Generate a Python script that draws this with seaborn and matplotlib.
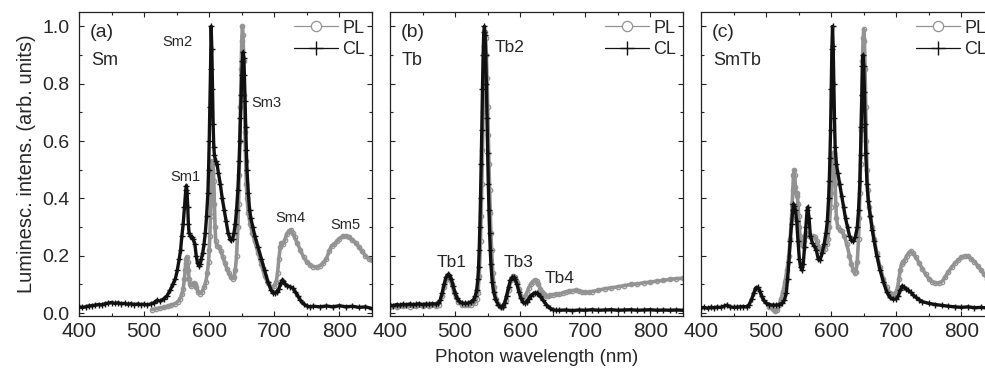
import numpy as np
import pandas as pd
import matplotlib
matplotlib.use("Agg")
import matplotlib.pyplot as plt
import seaborn as sns
from matplotlib.ticker import MultipleLocator

sns.set_style("ticks")
plt.rcParams['font.family'] = ['Liberation Sans', 'DejaVu Sans']

# ---------------- data: panel (a) Sm ----------------
a_cl_wl = [400, 405, 410, 415, 420, 425, 430, 435, 440, 445,
           450, 455, 460, 465, 470, 475, 480, 485, 490, 495,
           500, 505, 510, 515, 520, 525, 530, 535, 540, 544,
           548, 551, 554, 556, 558, 560, 562, 564, 565, 566,
           567, 568, 569, 571, 573, 575, 578, 580, 582, 584,
           586, 588, 590, 592, 594, 596, 598, 599, 600, 601,
           602, 603, 604, 605, 606, 607, 608, 610, 612, 614,
           617, 620, 623, 626, 629, 632, 634, 636, 638, 640,
           642, 644, 646, 647, 648, 649, 650, 651, 652, 653,
           654, 655, 656, 657, 658, 660, 662, 664, 667, 670,
           675, 680, 685, 690, 695, 698, 701, 704, 707, 710,
           712, 714, 717, 720, 724, 728, 732, 736, 740, 745,
           750, 755, 760, 770, 780, 790, 800, 810, 820, 830,
           840, 850]
a_cl_val = [0.022, 0.020, 0.022, 0.025, 0.026, 0.028, 0.030, 0.029, 0.033, 0.035,
            0.037, 0.034, 0.036, 0.033, 0.034, 0.031, 0.033, 0.030, 0.032, 0.030,
            0.031, 0.029, 0.032, 0.036, 0.045, 0.042, 0.050, 0.060, 0.080, 0.100,
            0.120, 0.150, 0.190, 0.220, 0.270, 0.310, 0.370, 0.430, 0.445, 0.420,
            0.370, 0.310, 0.280, 0.270, 0.265, 0.260, 0.240, 0.200, 0.175, 0.165,
            0.170, 0.190, 0.210, 0.240, 0.280, 0.340, 0.420, 0.500, 0.600, 0.720,
            0.850, 1.000, 0.920, 0.780, 0.660, 0.580, 0.550, 0.530, 0.520, 0.490,
            0.450, 0.400, 0.360, 0.320, 0.280, 0.260, 0.255, 0.260, 0.280, 0.310,
            0.360, 0.430, 0.530, 0.600, 0.680, 0.760, 0.830, 0.880, 0.910, 0.890,
            0.830, 0.740, 0.650, 0.570, 0.500, 0.420, 0.360, 0.330, 0.300, 0.270,
            0.230, 0.190, 0.150, 0.110, 0.080, 0.070, 0.070, 0.075, 0.085, 0.105,
            0.115, 0.112, 0.100, 0.095, 0.092, 0.088, 0.075, 0.060, 0.045, 0.032,
            0.025, 0.022, 0.024, 0.022, 0.025, 0.022, 0.026, 0.022, 0.024, 0.020,
            0.022, 0.016]

a_pl_wl = [512, 518, 524, 530, 536, 542, 548, 552, 555, 558,
           560, 562, 563, 564, 565, 566, 567, 568, 569, 570,
           572, 574, 576, 578, 580, 583, 586, 589, 592, 595,
           597, 599, 600, 601, 602, 603, 604, 605, 606, 607,
           608, 609, 610, 612, 615, 618, 621, 624, 627, 630,
           633, 636, 638, 640, 642, 644, 645, 646, 647, 648,
           649, 650, 651, 652, 653, 654, 655, 656, 657, 658,
           660, 663, 666, 670, 675, 680, 685, 690, 695, 700,
           703, 705, 707, 709, 711, 713, 716, 719, 722, 725,
           728, 731, 735, 740, 745, 750, 755, 760, 765, 770,
           775, 780, 784, 788, 792, 796, 800, 805, 810, 815,
           820, 825, 830, 835, 840, 845, 850]
a_pl_val = [0.012, 0.015, 0.018, 0.020, 0.024, 0.028, 0.033, 0.040, 0.050, 0.065,
            0.085, 0.120, 0.150, 0.175, 0.190, 0.195, 0.180, 0.150, 0.120, 0.100,
            0.095, 0.100, 0.105, 0.100, 0.090, 0.075, 0.068, 0.075, 0.090, 0.110,
            0.140, 0.180, 0.220, 0.270, 0.340, 0.420, 0.500, 0.530, 0.520, 0.460,
            0.380, 0.300, 0.250, 0.235, 0.230, 0.215, 0.195, 0.175, 0.155, 0.140,
            0.125, 0.120, 0.125, 0.150, 0.200, 0.300, 0.380, 0.480, 0.600, 0.720,
            0.850, 0.950, 1.000, 0.970, 0.880, 0.760, 0.630, 0.530, 0.450, 0.400,
            0.350, 0.310, 0.280, 0.250, 0.210, 0.170, 0.130, 0.105, 0.090, 0.095,
            0.110, 0.140, 0.190, 0.230, 0.245, 0.240, 0.255, 0.275, 0.285, 0.290,
            0.280, 0.265, 0.245, 0.220, 0.195, 0.178, 0.168, 0.162, 0.160, 0.165,
            0.175, 0.190, 0.215, 0.235, 0.240, 0.250, 0.260, 0.268, 0.270, 0.265,
            0.255, 0.245, 0.230, 0.215, 0.200, 0.190, 0.185]

# ---------------- data: panel (b) Tb ----------------
b_cl_wl = [400, 405, 410, 415, 420, 425, 430, 435, 440, 445,
           450, 455, 460, 465, 470, 474, 477, 480, 483, 486,
           489, 491, 494, 497, 500, 503, 506, 510, 515, 520,
           525, 528, 531, 533, 535, 536, 537, 538, 539, 540,
           541, 542, 543, 544, 545, 546, 547, 548, 549, 550,
           551, 552, 553, 554, 555, 557, 559, 562, 566, 570,
           573, 576, 579, 582, 585, 588, 590, 592, 595, 598,
           601, 604, 607, 610, 613, 616, 619, 622, 625, 628,
           631, 635, 640, 645, 650, 655, 660, 670, 680, 690,
           700, 710, 720, 730, 740, 750, 760, 770, 780, 790,
           800, 810, 820, 830, 840, 850]
b_cl_val = [0.028, 0.026, 0.030, 0.028, 0.031, 0.029, 0.032, 0.030, 0.031, 0.033,
            0.030, 0.032, 0.031, 0.033, 0.032, 0.035, 0.045, 0.070, 0.100, 0.125,
            0.135, 0.133, 0.120, 0.095, 0.070, 0.052, 0.042, 0.036, 0.034, 0.035,
            0.040, 0.045, 0.060, 0.080, 0.120, 0.160, 0.220, 0.300, 0.400, 0.520,
            0.640, 0.780, 0.900, 0.980, 1.000, 0.970, 0.900, 0.800, 0.680, 0.560,
            0.450, 0.360, 0.280, 0.220, 0.170, 0.110, 0.075, 0.050, 0.030, 0.020,
            0.022, 0.035, 0.060, 0.090, 0.115, 0.125, 0.125, 0.118, 0.100, 0.075,
            0.052, 0.038, 0.035, 0.040, 0.050, 0.060, 0.066, 0.070, 0.070, 0.066,
            0.058, 0.045, 0.030, 0.018, 0.012, 0.010, 0.010, 0.011, 0.009, 0.011,
            0.010, 0.012, 0.010, 0.011, 0.012, 0.010, 0.011, 0.012, 0.010, 0.011,
            0.012, 0.010, 0.011, 0.010, 0.011, 0.010]

b_pl_wl = [400, 410, 420, 430, 440, 450, 460, 470, 475, 480,
           483, 486, 489, 492, 495, 498, 501, 505, 510, 515,
           520, 525, 530, 533, 535, 537, 539, 540, 541, 542,
           543, 544, 545, 546, 547, 548, 549, 550, 551, 552,
           553, 554, 555, 556, 558, 560, 563, 566, 570, 574,
           578, 582, 586, 589, 592, 595, 598, 601, 604, 607,
           610, 613, 616, 619, 622, 625, 628, 631, 634, 637,
           640, 643, 646, 650, 655, 660, 665, 670, 675, 680,
           685, 690, 695, 700, 705, 710, 720, 730, 740, 750,
           760, 770, 780, 790, 800, 810, 820, 830, 840, 850]
b_pl_val = [0.022, 0.022, 0.024, 0.023, 0.025, 0.024, 0.025, 0.025, 0.030, 0.060,
            0.090, 0.115, 0.125, 0.120, 0.100, 0.075, 0.055, 0.040, 0.030, 0.027,
            0.027, 0.030, 0.035, 0.050, 0.070, 0.130, 0.250, 0.340, 0.450, 0.570,
            0.700, 0.820, 0.930, 0.980, 0.960, 0.900, 0.820, 0.720, 0.620, 0.520,
            0.430, 0.350, 0.280, 0.220, 0.140, 0.090, 0.050, 0.032, 0.022, 0.025,
            0.045, 0.080, 0.115, 0.130, 0.125, 0.110, 0.085, 0.060, 0.050, 0.055,
            0.070, 0.088, 0.100, 0.110, 0.115, 0.112, 0.100, 0.085, 0.072, 0.065,
            0.060, 0.060, 0.062, 0.064, 0.066, 0.066, 0.070, 0.074, 0.076, 0.078,
            0.080, 0.078, 0.074, 0.072, 0.072, 0.075, 0.080, 0.085, 0.088, 0.092,
            0.096, 0.100, 0.102, 0.106, 0.108, 0.112, 0.114, 0.118, 0.120, 0.122]

# ---------------- data: panel (c) SmTb ----------------
c_cl_wl = [400, 405, 410, 415, 420, 425, 430, 435, 440, 445,
           450, 455, 460, 465, 470, 474, 478, 481, 484, 487,
           490, 493, 496, 500, 505, 510, 515, 520, 525, 528,
           531, 533, 535, 537, 539, 541, 542, 543, 545, 547,
           549, 551, 553, 555, 557, 559, 561, 563, 564, 566,
           568, 571, 574, 577, 580, 583, 586, 589, 592, 594,
           596, 597, 598, 599, 600, 601, 602, 603, 604, 605,
           606, 608, 610, 613, 616, 619, 622, 625, 628, 631,
           634, 637, 640, 642, 644, 645, 646, 647, 648, 649,
           650, 651, 652, 653, 655, 657, 660, 663, 666, 670,
           675, 680, 685, 690, 695, 700, 703, 706, 709, 712,
           715, 718, 722, 726, 730, 735, 740, 750, 760, 770,
           780, 790, 800, 810, 820, 830, 840, 850]
c_cl_val = [0.018, 0.020, 0.017, 0.020, 0.019, 0.021, 0.020, 0.024, 0.028, 0.022,
            0.020, 0.021, 0.022, 0.023, 0.022, 0.030, 0.050, 0.070, 0.088, 0.090,
            0.078, 0.060, 0.045, 0.035, 0.030, 0.028, 0.028, 0.029, 0.035, 0.045,
            0.070, 0.120, 0.180, 0.250, 0.310, 0.360, 0.380, 0.375, 0.360, 0.320,
            0.250, 0.190, 0.160, 0.150, 0.170, 0.230, 0.300, 0.360, 0.370, 0.330,
            0.270, 0.245, 0.235, 0.220, 0.190, 0.185, 0.210, 0.240, 0.280, 0.320,
            0.400, 0.460, 0.540, 0.640, 0.780, 0.920, 1.000, 0.930, 0.800, 0.680,
            0.580, 0.520, 0.490, 0.450, 0.410, 0.370, 0.330, 0.300, 0.270, 0.255,
            0.250, 0.265, 0.300, 0.360, 0.460, 0.550, 0.650, 0.760, 0.860, 0.900,
            0.860, 0.770, 0.660, 0.560, 0.450, 0.390, 0.340, 0.290, 0.250, 0.200,
            0.150, 0.110, 0.075, 0.055, 0.048, 0.050, 0.060, 0.080, 0.095, 0.090,
            0.085, 0.080, 0.073, 0.063, 0.055, 0.047, 0.040, 0.034, 0.030, 0.027,
            0.024, 0.022, 0.020, 0.022, 0.019, 0.020, 0.018, 0.016]

c_pl_wl = [505, 510, 514, 517, 520, 523, 526, 529, 532, 535,
           537, 539, 540, 541, 542, 543, 544, 545, 546, 547,
           548, 549, 550, 551, 552, 553, 554, 556, 558, 560,
           562, 564, 566, 569, 572, 575, 578, 581, 584, 587,
           590, 593, 595, 597, 599, 600, 601, 602, 603, 604,
           605, 606, 607, 608, 610, 613, 616, 620, 624, 628,
           631, 634, 636, 638, 640, 642, 643, 644, 645, 646,
           647, 648, 649, 650, 651, 652, 653, 654, 655, 656,
           658, 660, 663, 666, 670, 675, 680, 685, 690, 695,
           699, 702, 704, 706, 708, 710, 713, 716, 719, 722,
           725, 730, 735, 740, 745, 750, 755, 760, 765, 770,
           775, 780, 785, 790, 795, 800, 805, 810, 815, 820,
           825, 830, 835, 840, 845, 850]
c_pl_val = [0.020, 0.014, 0.006, 0.010, 0.030, 0.050, 0.075, 0.110, 0.150, 0.200,
            0.260, 0.330, 0.380, 0.430, 0.480, 0.500, 0.480, 0.440, 0.420, 0.420,
            0.410, 0.380, 0.340, 0.300, 0.270, 0.250, 0.240, 0.235, 0.250, 0.270,
            0.280, 0.275, 0.270, 0.270, 0.270, 0.265, 0.250, 0.230, 0.220, 0.220,
            0.225, 0.240, 0.260, 0.300, 0.370, 0.420, 0.480, 0.530, 0.560, 0.560,
            0.520, 0.450, 0.380, 0.330, 0.300, 0.290, 0.285, 0.270, 0.240, 0.200,
            0.170, 0.150, 0.140, 0.145, 0.180, 0.260, 0.330, 0.420, 0.520, 0.640,
            0.760, 0.880, 0.960, 0.990, 0.950, 0.850, 0.720, 0.600, 0.500, 0.430,
            0.370, 0.340, 0.300, 0.260, 0.210, 0.160, 0.120, 0.090, 0.070, 0.065,
            0.070, 0.090, 0.120, 0.150, 0.170, 0.180, 0.185, 0.200, 0.210, 0.215,
            0.210, 0.195, 0.175, 0.155, 0.135, 0.120, 0.110, 0.105, 0.105, 0.110,
            0.125, 0.145, 0.160, 0.175, 0.185, 0.195, 0.200, 0.198, 0.190, 0.180,
            0.165, 0.150, 0.135, 0.120, 0.110, 0.100]

panel_tags = ["(a)", "(b)", "(c)"]
panel_names = ["Sm", "Tb", "SmTb"]
series_labels = ["PL", "CL"]
x_ticks = [400, 500, 600, 700, 800]
y_ticks = [0.0, 0.2, 0.4, 0.6, 0.8, 1.0]

peak_labels = [
    [("Sm1", 563, 0.474, 10.5), ("Sm2", 551, 0.944, 10.5), ("Sm3", 688, 0.734, 10.5),
     ("Sm4", 725, 0.330, 10.5), ("Sm5", 809, 0.306, 10.5)],
    [("Tb1", 495, 0.177, 12.5), ("Tb2", 583, 0.925, 12.5), ("Tb3", 598, 0.177, 12.5),
     ("Tb4", 661, 0.122, 12.5)],
    [],
]

pl_series = [(a_pl_wl, a_pl_val), (b_pl_wl, b_pl_val), (c_pl_wl, c_pl_val)]
cl_series = [(a_cl_wl, a_cl_val), (b_cl_wl, b_cl_val), (c_cl_wl, c_cl_val)]

for w, v in pl_series + cl_series:
    assert len(w) == len(v), (len(w), len(v))

# ---------------- figure ----------------
W, H = 985, 374
fig = plt.figure(figsize=(W / 100, H / 100), dpi=100)
lefts = [79, 390, 701]
ax_w, top_px, bot_px = 293, 12, 316
axes = [fig.add_axes([l / W, (H - bot_px) / H, ax_w / W, (bot_px - top_px) / H]) for l in lefts]

PL_COLOR = "#939393"
CL_COLOR = "#111111"

for i, ax in enumerate(axes):
    wl, val = pl_series[i]
    sns.lineplot(data=pd.DataFrame({"wl": wl, "val": val}), x="wl", y="val", ax=ax,
                 sort=False, estimator=None, errorbar=None, color=PL_COLOR,
                 marker="o", markersize=3.2, markerfacecolor="none",
                 markeredgecolor=PL_COLOR, markeredgewidth=0.9, linewidth=2.6,
                 label=series_labels[0], zorder=2)
    wl, val = cl_series[i]
    sns.lineplot(data=pd.DataFrame({"wl": wl, "val": val}), x="wl", y="val", ax=ax,
                 sort=False, estimator=None, errorbar=None, color=CL_COLOR,
                 marker="+", markersize=4.6, markeredgecolor=CL_COLOR,
                 markeredgewidth=1.0, linewidth=2.4,
                 label=series_labels[1], zorder=3)

    ax.set_xlim(400, 850)
    ax.set_ylim(-0.01, 1.05)
    ax.set_xticks(x_ticks)
    ax.set_yticks(y_ticks)
    ax.xaxis.set_minor_locator(MultipleLocator(50))
    ax.yaxis.set_minor_locator(MultipleLocator(0.1))
    ax.tick_params(which="both", direction="in", top=True, right=True, width=0.8,
                   color="#222222")
    ax.tick_params(which="major", length=3.8)
    ax.tick_params(which="minor", length=2.2)
    ax.tick_params(axis="x", labelsize=15, pad=4)
    ax.tick_params(axis="y", labelsize=14, pad=7)
    if i == 0:
        ax.set_yticklabels([f"{t:.1f}" for t in y_ticks])
        ax.set_ylabel("Luminesc. intens. (arb. units)", fontsize=14.5, labelpad=4)
    else:
        ax.set_yticklabels([])
        ax.set_ylabel("")
    if i == 1:
        ax.set_xlabel("Photon wavelength (nm)", fontsize=13.5, labelpad=6)
    else:
        ax.set_xlabel("")
    for s in ax.spines.values():
        s.set_linewidth(0.9)
        s.set_color("#222222")

    ax.text(0.036, 0.934, panel_tags[i], transform=ax.transAxes, fontsize=14,
            ha="left", va="center")
    ax.text(0.040, 0.840, panel_names[i], transform=ax.transAxes, fontsize=13,
            ha="left", va="center")
    for txt, x, y, fs in peak_labels[i]:
        ax.text(x, y, txt, fontsize=fs, ha="center", va="center")

    handles, labels = ax.get_legend_handles_labels()
    leg = ax.legend(handles, labels, loc="upper left", bbox_to_anchor=(0.735, 0.975),
                    frameon=False, handlelength=2.4, handletextpad=0.25, borderpad=0,
                    borderaxespad=0, labelspacing=0.25, markerscale=2.3, fontsize=13)
    for ln in leg.get_lines():
        ln.set_linewidth(0.9)
        if ln.get_marker() == "o":
            ln.set_markerfacecolor("white")

fig.savefig("out.png", dpi=100)
